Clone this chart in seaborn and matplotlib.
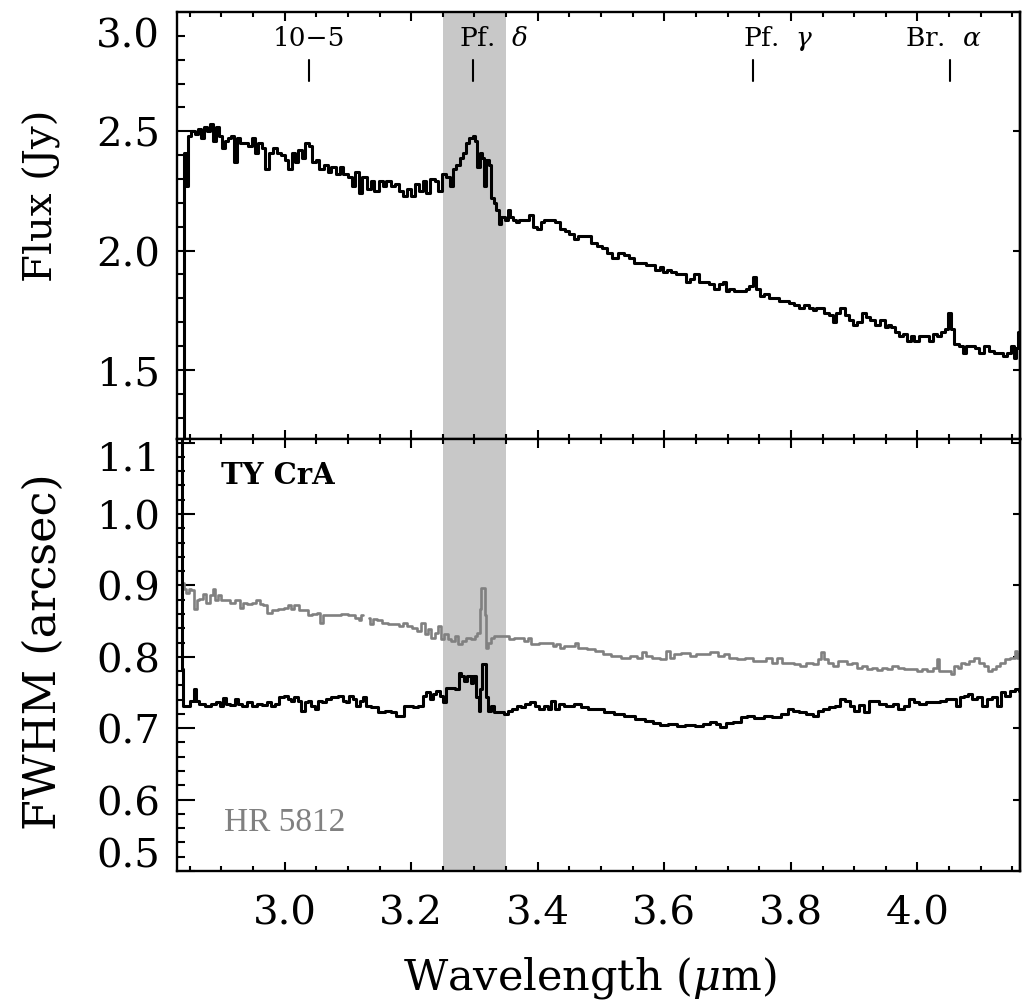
import numpy as np
import pandas as pd
import seaborn as sns
import matplotlib
matplotlib.use('Agg')
import matplotlib.pyplot as plt
from matplotlib.ticker import MultipleLocator, FixedLocator, NullLocator, FixedFormatter
from matplotlib.transforms import blended_transform_factory

# Espectro de flujo (panel superior)
flux_wave = [2.839, 2.842, 2.845, 2.850, 2.855, 2.861, 2.866, 2.871, 2.875, 2.880,
             2.885, 2.889, 2.894, 2.899, 2.904, 2.908, 2.913, 2.918, 2.923, 2.927,
             2.932, 2.938, 2.945, 2.951, 2.956, 2.961, 2.967, 2.972, 2.978, 2.984,
             2.991, 2.997, 3.003, 3.008, 3.014, 3.019, 3.024, 3.030, 3.036, 3.041,
             3.047, 3.052, 3.058, 3.065, 3.071, 3.077, 3.084, 3.090, 3.096, 3.103,
             3.109, 3.115, 3.120, 3.126, 3.133, 3.139, 3.145, 3.152, 3.158, 3.164,
             3.171, 3.177, 3.183, 3.190, 3.196, 3.202, 3.209, 3.215, 3.221, 3.227,
             3.234, 3.240, 3.245, 3.253, 3.258, 3.264, 3.269, 3.273, 3.280, 3.284,
             3.289, 3.295, 3.300, 3.303, 3.306, 3.311, 3.314, 3.317, 3.321, 3.324,
             3.329, 3.332, 3.336, 3.341, 3.344, 3.351, 3.354, 3.359, 3.363, 3.368,
             3.374, 3.382, 3.390, 3.395, 3.403, 3.406, 3.414, 3.423, 3.431, 3.439,
             3.447, 3.453, 3.461, 3.466, 3.474, 3.479, 3.490, 3.498, 3.506, 3.513,
             3.521, 3.532, 3.540, 3.548, 3.556, 3.566, 3.577, 3.581, 3.589, 3.596,
             3.600, 3.608, 3.613, 3.624, 3.632, 3.637, 3.643, 3.651, 3.659, 3.667,
             3.675, 3.682, 3.690, 3.695, 3.700, 3.706, 3.714, 3.719, 3.727, 3.731,
             3.738, 3.742, 3.747, 3.754, 3.761, 3.769, 3.777, 3.785, 3.793, 3.801,
             3.809, 3.817, 3.825, 3.833, 3.837, 3.842, 3.848, 3.856, 3.864, 3.869,
             3.874, 3.882, 3.888, 3.896, 3.900, 3.908, 3.916, 3.921, 3.929, 3.937,
             3.945, 3.951, 3.956, 3.961, 3.967, 3.975, 3.979, 3.987, 3.992, 3.998,
             4.006, 4.014, 4.022, 4.027, 4.035, 4.040, 4.046, 4.051, 4.055, 4.062,
             4.070, 4.074, 4.079, 4.087, 4.095, 4.101, 4.109, 4.117, 4.125, 4.133,
             4.137, 4.145, 4.150, 4.155, 4.158, 4.161, 4.166]
flux_jy = [1.00, 2.41, 2.27, 2.48, 2.50, 2.49, 2.51, 2.47, 2.52, 2.50,
           2.53, 2.46, 2.52, 2.48, 2.43, 2.46, 2.47, 2.48, 2.37, 2.47,
           2.45, 2.45, 2.44, 2.47, 2.41, 2.45, 2.43, 2.34, 2.41, 2.43,
           2.41, 2.40, 2.38, 2.34, 2.41, 2.37, 2.42, 2.39, 2.45, 2.44,
           2.37, 2.38, 2.34, 2.36, 2.33, 2.35, 2.32, 2.35, 2.32, 2.31,
           2.27, 2.33, 2.24, 2.31, 2.26, 2.29, 2.25, 2.29, 2.27, 2.29,
           2.27, 2.28, 2.25, 2.23, 2.26, 2.23, 2.28, 2.25, 2.29, 2.24,
           2.30, 2.29, 2.25, 2.32, 2.31, 2.27, 2.34, 2.36, 2.39, 2.41,
           2.45, 2.47, 2.48, 2.46, 2.35, 2.41, 2.39, 2.27, 2.38, 2.36,
           2.22, 2.20, 2.17, 2.11, 2.14, 2.13, 2.17, 2.14, 2.13, 2.12,
           2.13, 2.13, 2.15, 2.10, 2.09, 2.12, 2.13, 2.13, 2.12, 2.09,
           2.08, 2.07, 2.05, 2.06, 2.06, 2.06, 2.03, 2.02, 2.01, 1.99,
           1.97, 1.99, 1.98, 1.97, 1.95, 1.95, 1.94, 1.94, 1.92, 1.93,
           1.91, 1.92, 1.91, 1.90, 1.90, 1.87, 1.88, 1.90, 1.87, 1.87,
           1.86, 1.84, 1.86, 1.87, 1.83, 1.84, 1.83, 1.83, 1.83, 1.84,
           1.85, 1.89, 1.84, 1.81, 1.82, 1.80, 1.80, 1.79, 1.79, 1.78,
           1.77, 1.76, 1.77, 1.76, 1.75, 1.76, 1.76, 1.74, 1.73, 1.70,
           1.74, 1.76, 1.73, 1.71, 1.69, 1.70, 1.74, 1.72, 1.71, 1.69,
           1.71, 1.68, 1.69, 1.68, 1.66, 1.64, 1.65, 1.62, 1.64, 1.62,
           1.64, 1.64, 1.62, 1.65, 1.64, 1.66, 1.67, 1.74, 1.67, 1.61,
           1.60, 1.57, 1.60, 1.60, 1.59, 1.57, 1.60, 1.58, 1.57, 1.57,
           1.56, 1.57, 1.60, 1.55, 1.59, 1.66, 1.70]

# FWHM de TY CrA (negro)
tycra_wave = [2.837, 2.839, 2.841, 2.847, 2.855, 2.859, 2.862, 2.868, 2.879, 2.889,
              2.895, 2.900, 2.905, 2.910, 2.918, 2.924, 2.929, 2.937, 2.945, 2.953,
              2.961, 2.968, 2.976, 2.982, 2.987, 2.995, 3.003, 3.008, 3.013, 3.018,
              3.024, 3.029, 3.034, 3.039, 3.045, 3.050, 3.055, 3.063, 3.068, 3.079,
              3.090, 3.095, 3.100, 3.105, 3.111, 3.116, 3.121, 3.126, 3.132, 3.142,
              3.153, 3.163, 3.174, 3.179, 3.187, 3.190, 3.200, 3.205, 3.216, 3.221,
              3.226, 3.232, 3.237, 3.242, 3.248, 3.253, 3.258, 3.266, 3.274, 3.276,
              3.282, 3.284, 3.292, 3.297, 3.300, 3.305, 3.308, 3.311, 3.313, 3.317,
              3.320, 3.324, 3.329, 3.333, 3.342, 3.350, 3.355, 3.363, 3.371, 3.376,
              3.384, 3.392, 3.398, 3.406, 3.413, 3.419, 3.424, 3.429, 3.437, 3.445,
              3.453, 3.463, 3.474, 3.485, 3.498, 3.513, 3.529, 3.545, 3.561, 3.577,
              3.587, 3.600, 3.613, 3.627, 3.640, 3.656, 3.666, 3.677, 3.685, 3.692,
              3.703, 3.714, 3.727, 3.735, 3.750, 3.764, 3.777, 3.793, 3.798, 3.808,
              3.819, 3.829, 3.840, 3.845, 3.856, 3.866, 3.874, 3.882, 3.890, 3.898,
              3.903, 3.911, 3.919, 3.927, 3.935, 3.945, 3.956, 3.966, 3.974, 3.982,
              3.990, 3.998, 4.008, 4.019, 4.030, 4.040, 4.051, 4.058, 4.064, 4.069,
              4.077, 4.082, 4.090, 4.098, 4.106, 4.114, 4.122, 4.130, 4.135, 4.143,
              4.151, 4.158, 4.164]
tycra_fwhm = [1.200, 0.783, 0.731, 0.731, 0.738, 0.755, 0.738, 0.734, 0.731, 0.734,
              0.737, 0.731, 0.742, 0.734, 0.732, 0.741, 0.734, 0.731, 0.736, 0.731,
              0.734, 0.732, 0.736, 0.731, 0.734, 0.743, 0.745, 0.741, 0.738, 0.743,
              0.738, 0.724, 0.736, 0.738, 0.731, 0.727, 0.738, 0.736, 0.741, 0.743,
              0.745, 0.738, 0.736, 0.745, 0.741, 0.731, 0.738, 0.743, 0.731, 0.729,
              0.722, 0.724, 0.722, 0.717, 0.717, 0.731, 0.731, 0.729, 0.731, 0.745,
              0.750, 0.741, 0.748, 0.752, 0.745, 0.736, 0.757, 0.757, 0.755, 0.778,
              0.773, 0.766, 0.773, 0.764, 0.773, 0.743, 0.724, 0.755, 0.790, 0.790,
              0.743, 0.724, 0.731, 0.722, 0.722, 0.720, 0.724, 0.727, 0.731, 0.729,
              0.734, 0.736, 0.731, 0.727, 0.731, 0.727, 0.738, 0.727, 0.734, 0.731,
              0.731, 0.734, 0.729, 0.727, 0.727, 0.722, 0.720, 0.717, 0.713, 0.710,
              0.707, 0.704, 0.706, 0.703, 0.704, 0.703, 0.706, 0.708, 0.706, 0.701,
              0.707, 0.709, 0.715, 0.717, 0.714, 0.717, 0.716, 0.720, 0.727, 0.724,
              0.722, 0.720, 0.717, 0.724, 0.727, 0.729, 0.731, 0.741, 0.738, 0.731,
              0.724, 0.732, 0.722, 0.738, 0.738, 0.734, 0.731, 0.734, 0.727, 0.731,
              0.741, 0.736, 0.734, 0.736, 0.736, 0.738, 0.741, 0.741, 0.731, 0.743,
              0.745, 0.748, 0.741, 0.743, 0.731, 0.741, 0.743, 0.731, 0.750, 0.745,
              0.752, 0.755, 0.752]

# FWHM de la estrella de referencia HR 5812 (gris); None = hueco en los datos
hr_wave = [2.839, 2.842, 2.847, 2.850, 2.855, 2.860, 2.863, 2.868, 2.874, 2.879,
           2.884, 2.889, 2.892, 2.897, 2.903, 2.910, 2.918, 2.926, 2.932, 2.937,
           2.945, 2.953, 2.958, 2.963, 2.968, 2.976, 2.984, 2.995, 3.003, 3.008,
           3.013, 3.018, 3.026, 3.034, 3.039, 3.047, 3.055, 3.058, 3.063, 3.074,
           3.084, 3.095, 3.105, 3.116, 3.118, 3.124, 3.129, 3.134, 3.137, 3.142,
           3.150, 3.158, 3.169, 3.176, 3.184, 3.190, 3.197, 3.205, 3.213, 3.219,
           3.224, 3.229, 3.234, 3.240, 3.245, 3.250, 3.255, 3.261, 3.266, 3.271,
           3.276, 3.284, 3.290, 3.298, 3.303, 3.306, 3.310, 3.312, 3.315, 3.317,
           3.320, 3.324, 3.329, 3.334, 3.342, 3.350, 3.358, 3.366, 3.374, 3.382,
           3.387, 3.392, 3.398, 3.405, 3.413, 3.421, 3.427, 3.432, 3.437, 3.445,
           3.456, 3.461, 3.466, 3.474, 3.482, 3.498, 3.508, 3.524, 3.540, 3.553,
           3.561, 3.569, 3.574, 3.587, 3.600, 3.606, 3.611, 3.619, 3.635, 3.645,
           3.656, 3.666, 3.679, 3.690, 3.698, 3.708, 3.721, 3.735, 3.745, 3.756,
           3.766, 3.774, 3.782, 3.790, 3.798, 3.811, 3.819, 3.829, 3.840, 3.845,
           3.850, 3.856, 3.861, 3.871, 3.877, 3.885, 3.893, 3.900, 3.908, 3.916,
           3.924, 3.932, 3.940, 3.948, 3.956, 3.964, 3.974, 3.985, 3.995, 4.003,
           4.011, 4.019, 4.029, 4.032, 4.035, 4.043, 4.051, 4.056, 4.061, 4.066,
           4.072, 4.079, 4.085, 4.093, 4.101, 4.108, 4.114, 4.122, 4.127, 4.135,
           4.143, 4.151, 4.156, 4.158, 4.164]
hr_fwhm = [0.904, 0.895, 0.890, 0.895, 0.893, 0.867, 0.879, 0.881, 0.888, 0.876,
           0.886, 0.895, 0.879, 0.886, 0.879, 0.879, 0.876, 0.879, 0.869, 0.876,
           0.874, 0.876, 0.879, 0.874, 0.872, 0.862, 0.865, 0.867, 0.869, 0.872,
           0.867, 0.872, 0.865, 0.865, 0.858, 0.860, 0.862, 0.848, 0.858, 0.858,
           0.858, 0.860, 0.858, 0.855, 0.851, 0.858, None, 0.855, 0.846, 0.853,
           0.851, 0.848, 0.846, 0.846, 0.843, 0.848, 0.843, 0.841, 0.836, 0.848,
           0.832, 0.839, 0.827, 0.834, 0.843, 0.825, 0.832, 0.825, 0.822, 0.829,
           0.818, 0.822, 0.827, 0.825, 0.829, 0.834, 0.867, 0.897, 0.897, 0.858,
           0.813, 0.820, 0.827, 0.829, 0.829, 0.829, 0.825, 0.827, 0.827, 0.822,
           0.827, 0.818, 0.818, 0.820, 0.819, 0.820, 0.815, 0.818, 0.813, 0.815,
           0.815, 0.820, 0.813, 0.813, 0.811, 0.808, 0.804, 0.801, 0.798, 0.801,
           0.799, 0.807, 0.801, 0.799, 0.797, 0.808, 0.799, 0.804, 0.805, 0.801,
           0.804, 0.804, 0.807, 0.801, 0.804, 0.799, 0.797, 0.798, 0.794, 0.794,
           0.799, 0.792, 0.798, 0.791, 0.792, 0.790, 0.787, 0.791, 0.790, 0.797,
           0.807, 0.797, 0.792, 0.787, 0.794, 0.794, 0.790, 0.792, 0.785, 0.787,
           0.783, 0.785, 0.782, 0.785, 0.783, 0.787, 0.785, 0.783, 0.783, 0.780,
           0.783, 0.780, 0.785, 0.797, 0.780, 0.780, 0.780, 0.776, 0.787, 0.785,
           0.792, 0.790, 0.794, 0.799, 0.792, 0.787, 0.780, 0.783, 0.787, 0.792,
           0.797, 0.799, 0.808, 0.799, 0.804]

# Lineas de hidrogeno marcadas arriba
line_names = ['10\u22125', r'Pf.  $\delta$', r'Pf.  $\gamma$', r'Br.  $\alpha$']
line_wave = [3.038, 3.297, 3.740, 4.051]
band = (3.25, 3.35)

# ---- estilo ----
sns.set_style('ticks')
plt.rcParams['font.family'] = ['DejaVu Serif']
plt.rcParams['mathtext.fontset'] = 'dejavuserif'
plt.rcParams['font.size'] = 29
plt.rcParams['axes.linewidth'] = 1.7
for key in ('text.color', 'axes.labelcolor', 'xtick.color', 'ytick.color', 'axes.edgecolor'):
    plt.rcParams[key] = 'black'

flux_df = pd.DataFrame({'wave': flux_wave, 'flux': flux_jy})
ty_df = pd.DataFrame({'wave': tycra_wave, 'fwhm': tycra_fwhm})
hr_df = pd.DataFrame({'wave': hr_wave, 'fwhm': hr_fwhm}, dtype=float)
# separar en tramos para respetar el hueco
hr_df['tramo'] = hr_df['fwhm'].isna().cumsum()
hr_df = hr_df.dropna()

fig = plt.figure(figsize=(10.22, 10.03), dpi=100)
ax_top = fig.add_axes([0.1732, 0.5613, 0.8248, 0.4257])
ax_bot = fig.add_axes([0.1732, 0.1306, 0.8248, 0.4307])

for ax in (ax_top, ax_bot):
    ax.axvspan(band[0], band[1], color='#c8c8c8', lw=0, zorder=0)

sns.lineplot(data=flux_df, x='wave', y='flux', ax=ax_top, color='black', lw=2.2,
             drawstyle='steps-mid', estimator=None, errorbar=None)
sns.lineplot(data=hr_df, x='wave', y='fwhm', units='tramo', ax=ax_bot, color='#808080',
             lw=1.9, drawstyle='steps-mid', estimator=None, errorbar=None)
sns.lineplot(data=ty_df, x='wave', y='fwhm', ax=ax_bot, color='black', lw=2.2,
             drawstyle='steps-mid', estimator=None, errorbar=None)

# marcas de lineas
label_dx = [0.001, 0.034, 0.040, -0.010]
for name, w, dx in zip(line_names, line_wave, label_dx):
    ax_top.plot([w, w], [2.71, 2.80], color='black', lw=1.5)
    ax_top.text(w + dx, 2.895, name, ha='center', va='center', fontsize=19)

ax_bot.text(2.900, 1.056, 'TY CrA', fontweight='bold', fontsize=21, va='center', ha='left')
ax_bot.text(2.905, 0.5696, 'HR 5812', family='Liberation Serif', color='#808080',
            fontsize=24, va='center', ha='left')

# ---- ejes ----
limits = {ax_top: (1.21, 3.0), ax_bot: (0.5, 1.105)}
majors = {ax_top: [1.5, 2.0, 2.5, 3.0], ax_bot: [0.5, 0.6, 0.7, 0.8, 0.9, 1.0, 1.1]}
minors = {ax_top: 0.1, ax_bot: 0.02}
for ax in (ax_top, ax_bot):
    ax.set_xlim(2.83, 4.162)
    ax.set_ylim(*limits[ax])
    ax.xaxis.set_major_locator(MultipleLocator(0.2))
    ax.xaxis.set_minor_locator(MultipleLocator(0.05))
    ax.yaxis.set_major_locator(FixedLocator(majors[ax]))
    ax.yaxis.set_minor_locator(MultipleLocator(minors[ax]))
    ax.tick_params(axis='x', which='major', direction='in', length=6.5, width=1.5,
                   top=True, bottom=True, pad=17)
    ax.tick_params(axis='x', which='minor', direction='in', length=3.5, width=1.5,
                   top=True, bottom=True)
    ax.tick_params(axis='y', which='major', direction='in', length=13, width=1.5,
                   left=True, right=False, pad=12)
    ax.tick_params(axis='y', which='minor', direction='in', length=6, width=1.5,
                   left=True, right=False)
    sec = ax.secondary_yaxis('right')
    sec.yaxis.set_major_locator(FixedLocator(majors[ax]))
    sec.yaxis.set_minor_locator(NullLocator())
    sec.tick_params(axis='y', which='major', direction='in', length=5, width=1.5,
                    labelright=False)
    sec.spines['right'].set_linewidth(1.7)
    ax.set_xlabel('')
    ax.set_ylabel('')

ax_top.tick_params(axis='x', labelbottom=False)

# etiquetas extremas desplazadas hacia dentro
ax_top.yaxis.set_major_formatter(FixedFormatter(['1.5', '2.0', '2.5', '']))
ax_bot.yaxis.set_major_formatter(FixedFormatter(['', '0.6', '0.7', '0.8', '0.9', '1.0', '']))
trans_top = blended_transform_factory(ax_top.transAxes, ax_top.transData)
trans_bot = blended_transform_factory(ax_bot.transAxes, ax_bot.transData)
ax_top.text(-0.020, 2.90, '3.0', transform=trans_top, ha='right', va='center')
ax_bot.text(-0.020, 1.077, '1.1', transform=trans_bot, ha='right', va='center')
ax_bot.text(-0.020, 0.5205, '0.5', transform=trans_bot, ha='right', va='center')

ax_top.set_ylabel('Flux (Jy)', va='center', ha='center', fontsize=29)
ax_top.yaxis.set_label_coords(-0.160, 0.571)
ax_bot.set_ylabel('FWHM (arcsec)', va='center', ha='center', fontsize=32)
ax_bot.yaxis.set_label_coords(-0.158, 0.509)
ax_bot.set_xlabel(r'Wavelength ($\mu$m)', va='center', ha='center', fontsize=31)
ax_bot.xaxis.set_label_coords(0.490, -0.245)

fig.savefig('out.png', dpi=100)
